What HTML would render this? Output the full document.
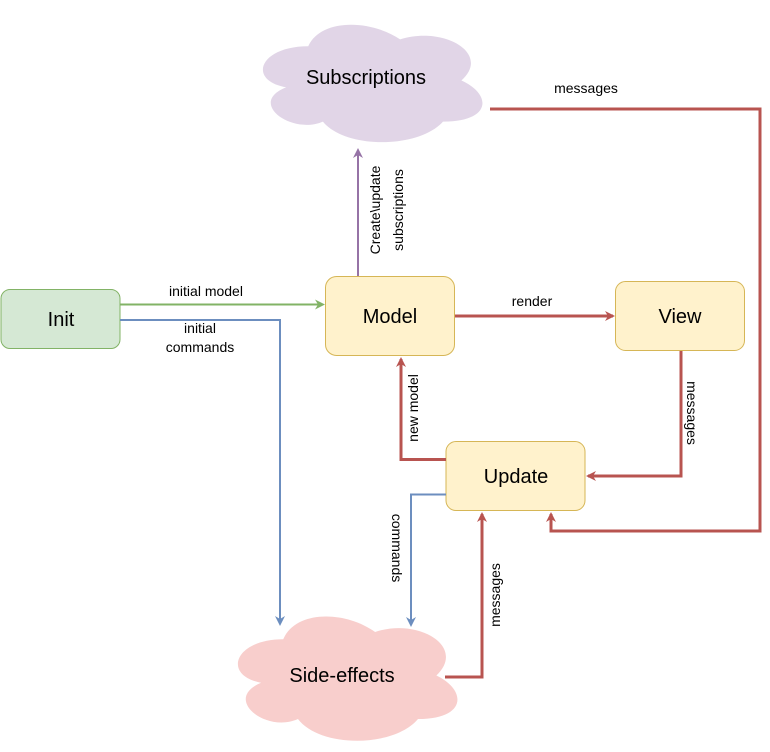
<!DOCTYPE html>
<html><head><meta charset="utf-8"><style>
html,body{margin:0;padding:0;background:#fff;}
svg{display:block;}
text{font-family:"Liberation Sans",Arial,sans-serif;fill:#000;}
</style></head><body>
<svg width="770" height="752" viewBox="0 0 770 752" xmlns="http://www.w3.org/2000/svg">
<defs>
<marker id="ar" markerWidth="10" markerHeight="10" refX="8" refY="5" orient="auto" markerUnits="userSpaceOnUse"><path d="M0,0 L10,5 L0,10 L3,5 Z" fill="#b85450"/></marker>
<marker id="ab" markerWidth="10" markerHeight="10" refX="8" refY="5" orient="auto" markerUnits="userSpaceOnUse"><path d="M0,0 L10,5 L0,10 L3,5 Z" fill="#6c8ebf"/></marker>
<marker id="ag" markerWidth="10" markerHeight="10" refX="8" refY="5" orient="auto" markerUnits="userSpaceOnUse"><path d="M0,0 L10,5 L0,10 L3,5 Z" fill="#82b366"/></marker>
<marker id="ap" markerWidth="10" markerHeight="10" refX="8" refY="5" orient="auto" markerUnits="userSpaceOnUse"><path d="M0,0 L10,5 L0,10 L3,5 Z" fill="#9673a6"/></marker>
</defs>

<!-- Subscriptions cloud -->
<g transform="translate(247,12) scale(245,137)">
<path d="M0.25,0.25 C0.05,0.25 0,0.5 0.16,0.55 C0,0.66 0.18,0.9 0.31,0.8 C0.4,1 0.7,1 0.8,0.8 C1,0.8 1,0.6 0.875,0.5 C1,0.3 0.8,0.1 0.625,0.2 C0.5,0.05 0.3,0.05 0.25,0.25 Z" fill="#e1d5e7" stroke="#9673a6" stroke-width="0.006" vector-effect="non-scaling-stroke"/>
</g>
<text x="366" y="84" font-size="20" text-anchor="middle">Subscriptions</text>

<!-- Side-effects cloud -->
<g transform="translate(222,603) scale(245,145)">
<path d="M0.25,0.25 C0.05,0.25 0,0.5 0.16,0.55 C0,0.66 0.18,0.9 0.31,0.8 C0.4,1 0.7,1 0.8,0.8 C1,0.8 1,0.6 0.875,0.5 C1,0.3 0.8,0.1 0.625,0.2 C0.5,0.05 0.3,0.05 0.25,0.25 Z" fill="#f8cecc" stroke="#b85450" stroke-width="0.006" vector-effect="non-scaling-stroke"/>
</g>
<text x="342" y="682" font-size="20" text-anchor="middle">Side-effects</text>

<!-- Nodes -->
<rect x="1" y="289.5" width="119" height="59" rx="9" fill="#d5e8d4" stroke="#82b366"/>
<text x="61" y="326" font-size="20" text-anchor="middle">Init</text>
<rect x="325.5" y="276.5" width="129" height="79" rx="11" fill="#fff2cc" stroke="#d6b656"/>
<text x="390" y="323" font-size="20" text-anchor="middle">Model</text>
<rect x="615.5" y="281.5" width="129" height="69" rx="10" fill="#fff2cc" stroke="#d6b656"/>
<text x="680" y="323" font-size="20" text-anchor="middle">View</text>
<rect x="446" y="441.5" width="139" height="69" rx="10" fill="#fff2cc" stroke="#d6b656"/>
<text x="516" y="483" font-size="20" text-anchor="middle">Update</text>

<!-- Edges -->
<path d="M120,304.5 L323,304.5" stroke="#82b366" stroke-width="2" fill="none" marker-end="url(#ag)"/>
<text x="206" y="296" font-size="14" text-anchor="middle">initial model</text>

<path d="M120,320 L280,320 L280,624" stroke="#6c8ebf" stroke-width="2" fill="none" marker-end="url(#ab)"/>
<text x="200" y="333" font-size="14" text-anchor="middle">initial</text>
<text x="200" y="352" font-size="14" text-anchor="middle">commands</text>

<path d="M358,276 L358,150" stroke="#9673a6" stroke-width="2" fill="none" marker-end="url(#ap)"/>
<text transform="translate(380,210) rotate(-90)" font-size="14" text-anchor="middle">Create\update</text>
<text transform="translate(403,210) rotate(-90)" font-size="14" text-anchor="middle">subscriptions</text>

<path d="M455,316 L613,316" stroke="#b85450" stroke-width="3" fill="none" marker-end="url(#ar)"/>
<text x="532" y="306" font-size="14" text-anchor="middle">render</text>

<path d="M446,459.5 L401,459.5 L401,359" stroke="#b85450" stroke-width="3" fill="none" marker-end="url(#ar)"/>
<text transform="translate(418,408) rotate(-90)" font-size="14" text-anchor="middle">new model</text>

<path d="M681,351 L681,476 L588,476" stroke="#b85450" stroke-width="3" fill="none" marker-end="url(#ar)"/>
<text transform="translate(687,413) rotate(90)" font-size="14" text-anchor="middle">messages</text>

<path d="M490,109 L760,109 L760,531 L551,531 L551,514" stroke="#b85450" stroke-width="3" fill="none" marker-end="url(#ar)"/>
<text x="586" y="93" font-size="14" text-anchor="middle">messages</text>

<path d="M446,494.5 L411,494.5 L411,625" stroke="#6c8ebf" stroke-width="2" fill="none" marker-end="url(#ab)"/>
<text transform="translate(392,548) rotate(90)" font-size="14" text-anchor="middle">commands</text>

<path d="M445,677 L482,677 L482,514" stroke="#b85450" stroke-width="3" fill="none" marker-end="url(#ar)"/>
<text transform="translate(500,595) rotate(-90)" font-size="14" text-anchor="middle">messages</text>
</svg>
</body></html>
